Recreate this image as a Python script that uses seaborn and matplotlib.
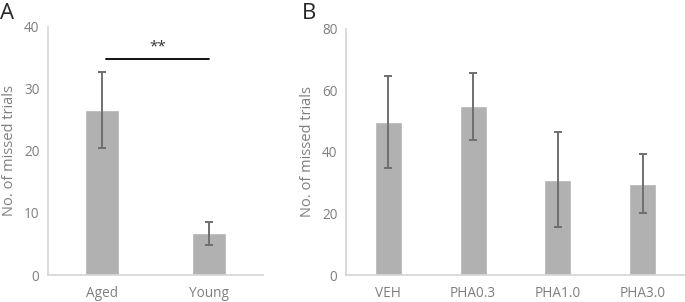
import numpy as np
import pandas as pd
import seaborn as sns
import matplotlib
matplotlib.use('agg')
import matplotlib.pyplot as plt

# panel A
groups_a = ['Aged', 'Young']
means_a = [26.6, 6.7]
sem_a = [6.2, 1.85]
sig_y = 34.8

# panel B
groups_b = ['VEH', 'PHA0.3', 'PHA1.0', 'PHA3.0']
means_b = [49.8, 54.8, 31.0, 29.6]
sem_b = [15.0, 11.0, 15.4, 9.6]

bar_col = '#b1b1b1'
err_col = '#6f6f6f'
axis_col = '#d4d4d4'
text_col = '#7f7f7f'


def panel(ax, cats, means, errs, ymax, step, width):
    df = pd.DataFrame({'group': cats, 'trials': means})
    sns.barplot(data=df, x='group', y='trials', color=bar_col, saturation=1,
                width=width, errorbar=None, ax=ax)
    ax.errorbar(x=np.arange(len(cats)), y=means, yerr=errs, fmt='none',
                ecolor=err_col, elinewidth=1.4, capsize=3, capthick=1.4)
    ax.set_ylim(0, ymax)
    ax.set_xlim(-0.5, len(cats) - 0.5)
    ax.set_yticks(np.arange(0, ymax + 1, step))
    ax.set_xlabel('')
    ax.set_ylabel('No. of missed trials', color=text_col, fontsize=10.5, labelpad=5)
    ax.tick_params(length=0, colors=text_col, labelsize=9.8, pad=6)
    ax.tick_params(axis='x', pad=8)
    sns.despine(ax=ax)
    for s in ['left', 'bottom']:
        ax.spines[s].set_color(axis_col)
        ax.spines[s].set_linewidth(1.2)


if __name__ == '__main__':
    sns.set_style('white')
    plt.rcParams['font.family'] = ['Open Sans', 'DejaVu Sans']

    fig = plt.figure(figsize=(6.85, 3.02), dpi=100)
    ax_a = fig.add_axes([0.070, 0.0894, 0.314, 0.8216])
    ax_b = fig.add_axes([0.505, 0.0894, 0.495, 0.8146])

    panel(ax_a, groups_a, means_a, sem_a, 40, 10, 0.32)
    panel(ax_b, groups_b, means_b, sem_b, 80, 20, 0.32)

    # significance bar
    ax_a.plot([0.04, 1.0], [sig_y, sig_y], color='black', lw=1.3)
    ax_a.text(0.52, sig_y + 0.8, '**', ha='center', va='bottom', fontsize=11, color='#333333')

    fig.text(0.0, 0.99, 'A', fontsize=16, va='top', ha='left')
    fig.text(0.440, 0.99, 'B', fontsize=16, va='top', ha='left')

    fig.savefig('out.png', dpi=100)
    plt.close('all')
